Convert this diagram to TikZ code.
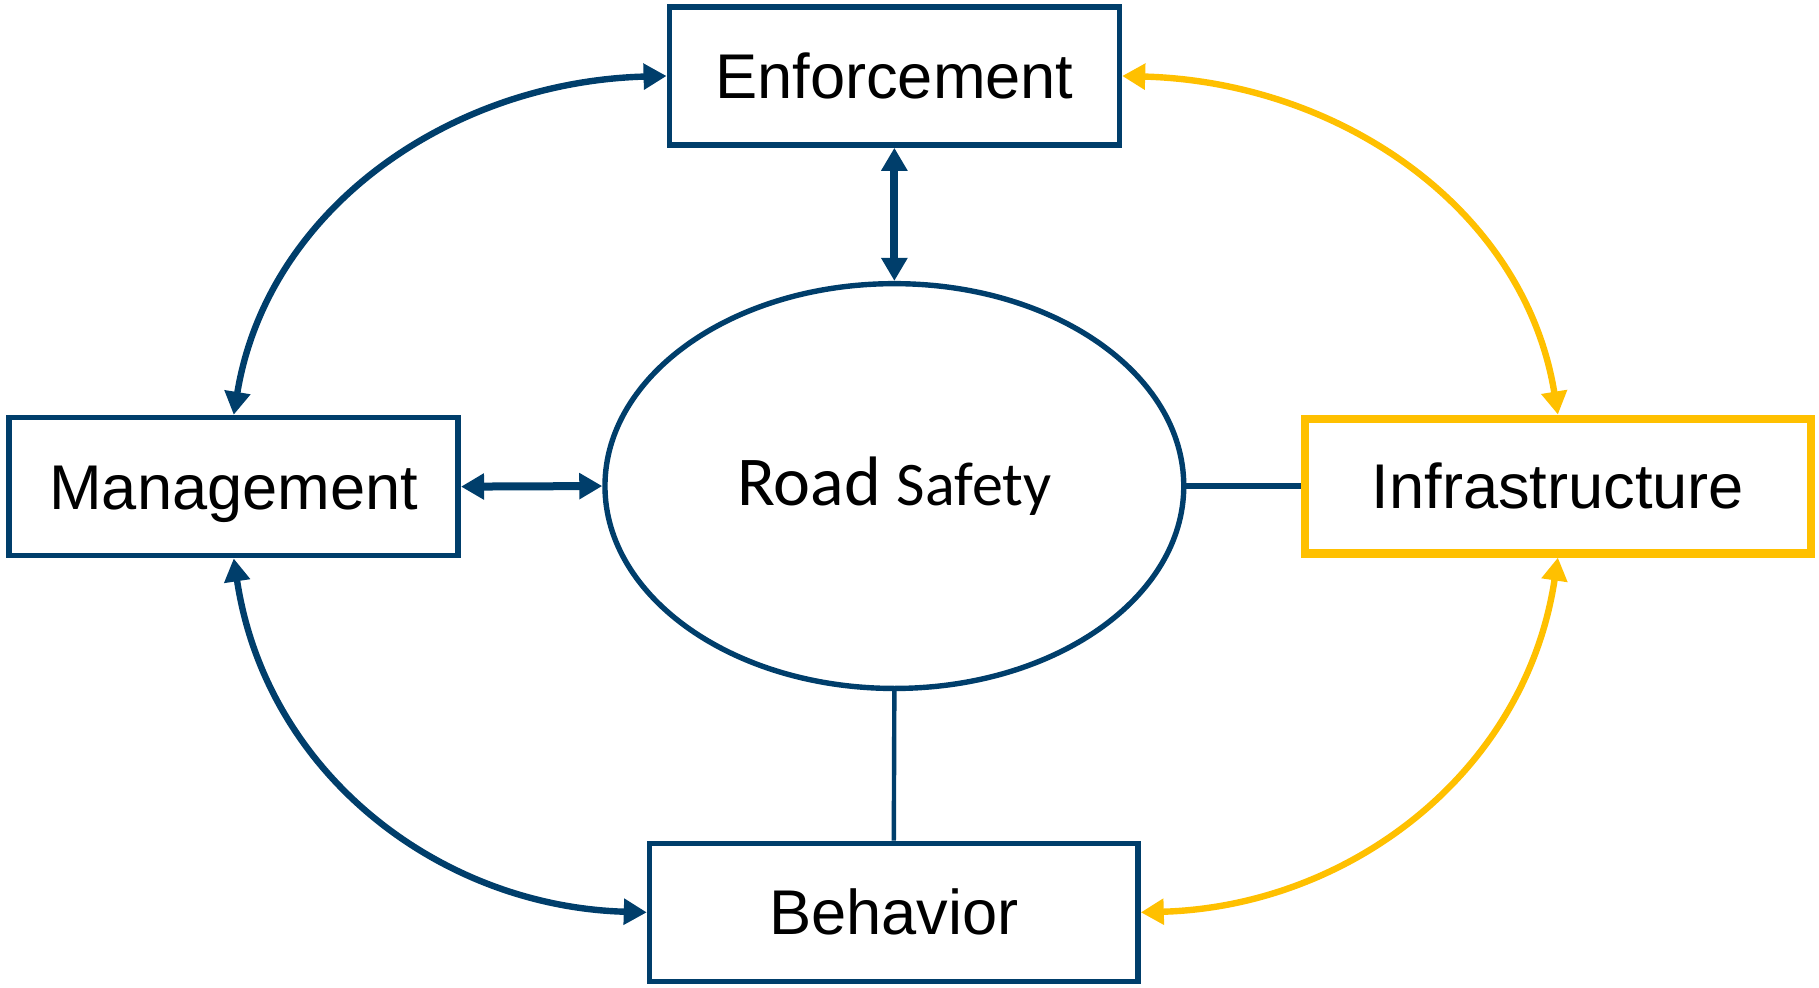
\documentclass[tikz,border=0pt]{standalone}
\usepackage{fontspec}
\setmainfont{Liberation Sans}
\newfontfamily\calibrifont{Carlito}
\usepackage{tikz}
\usetikzlibrary{calc}
\usetikzlibrary{shapes.geometric}
\usetikzlibrary{arrows.meta}
\definecolor{navy}{HTML}{003E6B}
\definecolor{gold}{HTML}{FFC000}

\begin{document}
\begin{tikzpicture}[x=0.58pt, y=-0.58pt,
    area/.style={draw=navy, line width=2.8pt, minimum height=69pt, inner sep=0pt,
                 font=\fontsize{31.6}{36}\selectfont, text height=22.6pt, text depth=0pt},
    twoway/.style={navy, line width=4pt,
                   {Triangle[length=11.5pt,width=12.5pt]}-{Triangle[length=11.5pt,width=12.5pt]}},
    ring/.style={line width=3.2pt,
                 {Triangle[length=11.5pt,width=12.5pt]}-{Triangle[length=11.5pt,width=12.5pt]}}]
  \useasboundingbox (0,0) rectangle (1568.1,850.9);

  \node[area, minimum width=225pt] (enf) at (771,65.5) {Enforcement};
  \node[area, minimum width=224.5pt] (mgmt) at (201.5,419.5) {Management};
  \node[area, draw=gold, line width=4.2pt, minimum width=252.9pt, minimum height=67.3pt]
     (infra) at (1343,419) {Infrastructure};
  \node[area, minimum width=244.2pt] (beh) at (770.5,786.5) {Behavior};
  \node[ellipse, draw=navy, line width=2.7pt, inner sep=0pt,
        minimum width=289.4pt, minimum height=202.4pt] (rs) at (771,419)
     {\calibrifont\fontsize{35}{40}\selectfont Road \fontsize{31}{36}\selectfont Safety};

  \draw[twoway] (enf.south) -- (rs.north);
  \draw[twoway] (mgmt.east) -- (rs.west);
  \draw[navy, line width=2.8pt] (rs.east) -- (infra.west);
  \draw[navy, line width=2.2pt] (rs.south) -- (beh.north);

  \draw[ring, navy] (mgmt.north) .. controls +(29,-178) and +(-186,5) .. (enf.west);
  \draw[ring, gold] (enf.east) .. controls +(187,5) and +(-29,-178) .. (infra.north);
  \draw[ring, navy] (mgmt.south) .. controls +(28,186) and +(-178,-5) .. (beh.west);
  \draw[ring, gold] (beh.east) .. controls +(179,-5) and +(-28,186) .. (infra.south);
\end{tikzpicture}
\end{document}
